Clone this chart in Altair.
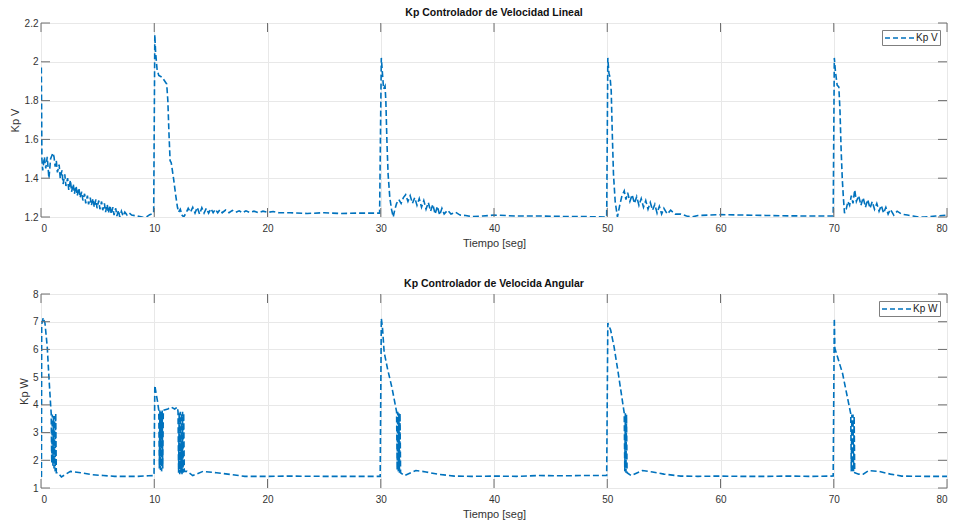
import altair as alt
import pandas as pd

# ---------------- data ----------------
T_V = [
    0.03, 0.08, 0.15, 0.30, 0.42, 0.55, 0.70, 0.85, 1.05,
    1.15, 1.25, 1.35, 1.45, 1.60, 1.70, 1.85, 1.95, 2.10, 2.20, 2.35, 2.45, 2.60, 2.70, 2.85, 2.95,
    3.10, 3.20, 3.35, 3.45, 3.60, 3.70, 3.85, 3.95, 4.10, 4.20, 4.35, 4.45, 4.60, 4.70, 4.85, 4.95,
    5.10, 5.20, 5.35, 5.45, 5.60, 5.70, 5.85, 5.95, 6.10, 6.20, 6.35, 6.45, 6.60, 6.70, 6.85, 6.95,
    7.10, 7.25, 7.40, 7.60, 7.80, 8.00, 8.50, 9.00, 9.30, 9.60, 9.95,
    10.05, 10.12, 10.25, 10.40, 10.70, 11.10, 11.20, 11.30, 11.40, 11.50, 11.70, 11.90, 12.05, 12.15,
    12.30, 12.45, 12.60, 12.80,
    13.0, 13.2, 13.4, 13.6, 13.8, 14.0, 14.2, 14.4, 14.6, 14.8, 15.0, 15.2, 15.4, 15.6, 15.8, 16.0,
    16.3, 16.6, 16.9, 17.2, 17.5, 17.8, 18.1, 18.4, 18.8, 19.2, 19.6, 20.0, 20.5, 21.0, 22.0, 23.5,
    25.0, 26.5, 28.0, 29.9,
    30.05, 30.15, 30.25, 30.38, 30.45, 30.55, 30.65, 30.80, 30.95, 31.10, 31.25, 31.40, 31.60, 31.80,
    32.00, 32.20, 32.40, 32.60, 32.80, 33.00, 33.20, 33.40, 33.60, 33.80, 34.00, 34.20, 34.40, 34.60,
    34.80, 35.00, 35.20, 35.40, 35.60, 35.90, 36.20, 36.60, 37.00, 37.50, 38.00, 39.00, 40.00, 42.00,
    44.00, 46.00, 48.00, 49.95,
    50.05, 50.15, 50.25, 50.35, 50.45, 50.55, 50.70, 50.90, 51.10, 51.30, 51.50, 51.65, 51.80, 52.00,
    52.20, 52.40, 52.60, 52.80, 53.00, 53.20, 53.40, 53.60, 53.80, 54.00, 54.20, 54.40, 54.60, 54.80,
    55.00, 55.30, 55.60, 56.00, 56.50, 57.00, 57.50, 58.00, 59.00, 60.00, 62.00, 64.00, 66.00, 68.00,
    69.95,
    70.05, 70.15, 70.30, 70.45, 70.55, 70.65, 70.75, 70.85, 70.95, 71.10, 71.25, 71.40, 71.55, 71.70,
    71.85, 72.00, 72.20, 72.40, 72.60, 72.80, 73.00, 73.20, 73.40, 73.60, 73.80, 74.00, 74.20, 74.40,
    74.60, 74.80, 75.00, 75.30, 75.60, 76.00, 76.50, 77.00, 77.50, 78.00, 79.00, 80.00,
]
KP_V = [
    1.97, 1.50, 1.44, 1.51, 1.45, 1.51, 1.40, 1.50, 1.53,
    1.51, 1.46, 1.49, 1.43, 1.47, 1.40, 1.44, 1.37, 1.42, 1.36, 1.40, 1.34, 1.39, 1.33, 1.37, 1.32,
    1.36, 1.31, 1.35, 1.30, 1.33, 1.285, 1.32, 1.27, 1.31, 1.265, 1.30, 1.26, 1.295, 1.25, 1.29, 1.245,
    1.285, 1.24, 1.28, 1.235, 1.27, 1.225, 1.265, 1.22, 1.26, 1.215, 1.25, 1.21, 1.245, 1.205, 1.235, 1.20,
    1.23, 1.205, 1.225, 1.21, 1.22, 1.21, 1.205, 1.198, 1.20, 1.212, 1.22,
    2.14, 2.05, 1.96, 1.93, 1.92, 1.885, 1.80, 1.63, 1.49, 1.48, 1.40, 1.31, 1.25, 1.225,
    1.24, 1.21, 1.20, 1.22,
    1.245, 1.225, 1.25, 1.22, 1.25, 1.215, 1.248, 1.22, 1.245, 1.22, 1.243, 1.222, 1.24, 1.222, 1.238, 1.222,
    1.236, 1.222, 1.234, 1.224, 1.232, 1.222, 1.232, 1.224, 1.23, 1.222, 1.23, 1.224, 1.228, 1.222, 1.222, 1.218,
    1.222, 1.218, 1.22, 1.22,
    2.02, 1.94, 1.86, 1.875, 1.80, 1.58, 1.42, 1.30, 1.24, 1.20, 1.24, 1.27, 1.29, 1.27,
    1.30, 1.315, 1.28, 1.31, 1.27, 1.30, 1.26, 1.295, 1.25, 1.285, 1.24, 1.275, 1.23, 1.265,
    1.215, 1.255, 1.21, 1.245, 1.215, 1.235, 1.215, 1.225, 1.21, 1.208, 1.202, 1.205, 1.21, 1.205,
    1.205, 1.203, 1.202, 1.20,
    2.02, 1.94, 1.92, 1.85, 1.62, 1.42, 1.28, 1.20, 1.26, 1.31, 1.335, 1.29, 1.325, 1.28,
    1.315, 1.27, 1.305, 1.26, 1.295, 1.25, 1.285, 1.24, 1.275, 1.235, 1.265, 1.22, 1.255, 1.215,
    1.245, 1.215, 1.235, 1.215, 1.215, 1.205, 1.20, 1.208, 1.21, 1.212, 1.21, 1.208, 1.206, 1.205,
    1.205,
    2.02, 1.95, 1.88, 1.87, 1.75, 1.55, 1.40, 1.30, 1.22, 1.24, 1.28, 1.26, 1.31, 1.27,
    1.34, 1.28, 1.31, 1.26, 1.30, 1.25, 1.29, 1.245, 1.28, 1.24, 1.27, 1.23, 1.26, 1.22,
    1.25, 1.215, 1.24, 1.21, 1.23, 1.215, 1.21, 1.205, 1.20, 1.20, 1.205, 1.21,
]

T_W = [
    0.04, 0.06, 0.20, 0.35, 0.55, 0.70, 0.85, 0.90,
    0.95, 1.00, 1.05, 1.10, 1.15, 1.20, 1.25, 1.30, 1.35,
    1.50, 1.80, 2.20, 2.60, 3.50, 4.50, 5.50, 6.50, 7.50, 8.50, 9.50, 9.98,
    10.05, 10.15, 10.30, 10.40, 10.45, 10.50, 10.55, 10.60, 10.65, 10.70, 10.75, 10.80,
    11.20, 11.50, 11.80, 12.05, 12.10, 12.15, 12.20, 12.25, 12.30, 12.35, 12.40, 12.45, 12.50,
    12.55, 12.60, 12.65, 12.90, 13.40, 14.30, 15.50, 16.50, 18.00, 20.00, 22.00, 25.00, 28.00, 29.95,
    30.05, 30.15, 30.30, 30.60, 31.00, 31.40, 31.45, 31.50, 31.55, 31.60, 31.65, 31.70, 31.75,
    32.10, 33.10, 34.00, 35.00, 36.50, 38.00, 40.00, 42.00, 44.00, 46.00, 48.00, 49.95,
    50.05, 50.30, 50.60, 50.95, 51.50, 51.55, 51.60, 51.65, 51.70, 51.75,
    52.10, 53.10, 54.00, 55.00, 56.50, 58.00, 60.00, 62.00, 64.00, 66.00, 68.00, 69.95,
    70.05, 70.10, 70.78, 71.50, 71.55, 71.60, 71.65, 71.70, 71.75, 71.80, 71.85,
    72.20, 72.60, 73.10, 74.00, 75.00, 76.00, 78.00, 80.00,
]
KP_W = [
    1.40, 6.90, 7.15, 6.95, 6.10, 5.00, 4.00, 3.70,
    1.90, 3.65, 1.80, 3.60, 1.70, 3.60, 1.60, 3.70, 1.55,
    1.55, 1.40, 1.50, 1.60, 1.55, 1.48, 1.45, 1.42, 1.42, 1.42, 1.44, 1.45,
    4.70, 4.45, 4.10, 3.80, 1.70, 3.80, 1.65, 3.75, 1.60, 3.80, 1.70, 3.80,
    3.85, 3.92, 3.85, 3.92, 3.75, 1.55, 3.70, 1.50, 3.75, 1.55, 3.70, 1.50, 3.75,
    1.55, 3.70, 1.60, 1.60, 1.45, 1.60, 1.55, 1.50, 1.42, 1.42, 1.43, 1.42, 1.42, 1.42,
    7.12, 6.80, 5.90, 5.30, 4.60, 3.75, 1.65, 3.75, 1.60, 3.70, 1.55, 3.70, 1.55,
    1.45, 1.63, 1.58, 1.50, 1.43, 1.42, 1.43, 1.42, 1.45, 1.44, 1.45, 1.45,
    6.95, 6.70, 6.10, 5.20, 3.70, 1.60, 3.70, 1.55, 3.65, 1.55,
    1.45, 1.63, 1.58, 1.50, 1.43, 1.42, 1.43, 1.42, 1.42, 1.43, 1.42, 1.43,
    7.12, 6.04, 5.13, 3.68, 1.60, 3.65, 1.55, 3.65, 1.60, 3.60, 1.55,
    1.50, 1.50, 1.63, 1.60, 1.50, 1.43, 1.42, 1.42,
]

X_TICKS = [0, 10, 20, 30, 40, 50, 60, 70, 80]
YV_TICKS = [1.2, 1.4, 1.6, 1.8, 2.0, 2.2]
YW_TICKS = [1, 2, 3, 4, 5, 6, 7, 8]

# ---------------- styling ----------------
W, H = 906, 194
TICK = 9
FONT = "Liberation Sans"
BLUE = "#0072BD"
AX = "#6e6e6e"
TXT = "#333333"


def panel(t, v, name, ytitle, title, ydomain, yticks, ytitle_pad, yfmt):
    df = pd.DataFrame({"t": t, "v": v, "i": list(range(len(t))), "serie": name})
    xsc = alt.Scale(domain=[0, 80], nice=False, zero=False)
    ysc = alt.Scale(domain=ydomain, nice=False, zero=False)
    xax = alt.Axis(
        values=X_TICKS, title="Tiempo [seg]", format="d",
        ticks=False, domain=False, grid=True, gridColor="#e8e8e8",
        labelPadding=6, labelFontSize=10, labelColor=TXT, labelFont=FONT,
        titleFontSize=11, titleFontWeight="normal", titleColor=TXT,
        titleFont=FONT, titlePadding=4)
    yax = alt.Axis(
        values=yticks, title=ytitle, format=yfmt,
        ticks=False, domain=False, grid=True, gridColor="#e8e8e8",
        labelPadding=3, labelFontSize=10, labelColor=TXT, labelFont=FONT,
        titleFontSize=11, titleFontWeight="normal", titleColor=TXT,
        titleFont=FONT, titlePadding=ytitle_pad)

    line = alt.Chart(df).mark_line(
        strokeDash=[6, 3], strokeWidth=1.6, clip=True
    ).encode(
        x=alt.X("t:Q", scale=xsc, axis=xax),
        y=alt.Y("v:Q", scale=ysc, axis=yax),
        order=alt.Order("i:Q"),
        color=alt.Color("serie:N",
                        scale=alt.Scale(domain=[name], range=[BLUE]),
                        legend=alt.Legend(
                            orient="top-right", title=None, offset=7, padding=2,
                            strokeColor="#7f7f7f", fillColor="white",
                            symbolType="M-1,0H5.2", symbolSize=100,
                            symbolDash=[5, 3], symbolStrokeWidth=1.6,
                            labelFontSize=10, labelFont=FONT, labelColor="#222222",
                            labelOffset=20)),
    )

    xt = pd.DataFrame({"t": X_TICKS})
    yt = pd.DataFrame({"v": yticks})
    rule = dict(color=AX, strokeWidth=1)
    bot = alt.Chart(xt).mark_rule(**rule).encode(
        x=alt.X("t:Q", scale=xsc, axis=xax), y=alt.value(H), y2=alt.value(H - TICK))
    top = alt.Chart(xt).mark_rule(**rule).encode(
        x=alt.X("t:Q", scale=xsc, axis=xax), y=alt.value(0), y2=alt.value(TICK))
    lef = alt.Chart(yt).mark_rule(**rule).encode(
        y=alt.Y("v:Q", scale=ysc, axis=yax), x=alt.value(0), x2=alt.value(TICK))
    rig = alt.Chart(yt).mark_rule(**rule).encode(
        y=alt.Y("v:Q", scale=ysc, axis=yax), x=alt.value(W), x2=alt.value(W - TICK))

    return alt.layer(line, bot, top, lef, rig).properties(
        width=W, height=H,
        title=alt.TitleParams(title, fontSize=10.5, fontWeight="bold", font=FONT,
                              color="#111111", offset=0, anchor="middle"),
    )


p1 = panel(T_V, KP_V, "Kp V", "Kp V", "Kp Controlador de Velocidad Lineal",
           [1.2, 2.2], YV_TICKS, 4, "~g")
p2 = panel(T_W, KP_W, "Kp W", "Kp W", "Kp Controlador de Velocida Angular",
           [1, 8], YW_TICKS, 3, "d")

chart = alt.vconcat(p1, p2, spacing=29).resolve_scale(color="independent").properties(
    padding={"left": 8, "top": 7, "right": 0, "bottom": 0}
).configure_view(stroke=AX, strokeWidth=1).configure(background="white")

chart.save("out.html", embed_options={"renderer": "svg", "actions": False})
